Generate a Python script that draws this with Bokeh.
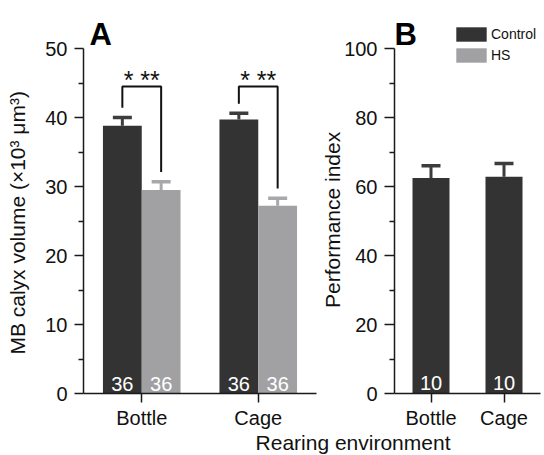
from bokeh.plotting import figure
from bokeh.models import (ColumnDataSource, FixedTicker, Range1d, Whisker, TeeHead,
                          Legend, LegendItem, Div, Label)
from bokeh.layouts import row, column
from bokeh.core.properties import value
from bokeh.embed import file_html
from bokeh.resources import INLINE

# ---------------- data ----------------
environments = ["Bottle", "Cage"]
env_pos = [1, 2]

calyx_control = [38.8, 39.7]
calyx_control_sem = [1.2, 0.9]
calyx_hs = [29.5, 27.2]
calyx_hs_sem = [1.2, 1.1]
calyx_n_control = ["36", "36"]
calyx_n_hs = ["36", "36"]
sig_label = ["* **", "* **"]
sig_level = [44.5, 44.5]

pi_control = [62.5, 62.8]
pi_control_sem = [3.5, 3.9]
pi_n = ["10", "10"]

calyx_ticks = [0, 10, 20, 30, 40, 50]
calyx_minor = [5, 15, 25, 35, 45]
pi_ticks = [0, 20, 40, 60, 80, 100]
pi_minor = [10, 30, 50, 70, 90]

# ---------------- style ----------------
CTRL = "#333333"
HS = "#a1a1a4"
CTRL_ERR = "#3d3d3d"
HS_ERR = "#a8a8ab"
AX = "#1a1a1a"
FONT = "Liberation Sans"
BAR_W_A = 0.333
BAR_W_B = 0.507
BRACKET_GAP = 1.4
FRAME_H = 388          # frame reaches above the axis top to host panel letters / legend
AXIS_PX = 345          # pixel length of the drawn y axis
NBSP = "\u00a0"


def style_axes(p, yticks, yminor, ylabel, ylabel_standoff, ytick_len):
    for ax in (p.xaxis[0], p.yaxis[0]):
        ax.axis_line_color = AX
        ax.axis_line_width = 1.5
        ax.major_tick_line_color = AX
        ax.major_tick_line_width = 1.5
        ax.minor_tick_line_color = AX
        ax.minor_tick_line_width = 1.5
        ax.major_tick_in = 0
        ax.minor_tick_in = 0
        ax.major_label_text_font = FONT
        ax.major_label_text_font_size = "20px"
        ax.major_label_text_color = "#111111"
        ax.axis_label_text_font = FONT
        ax.axis_label_text_font_size = "21px"
        ax.axis_label_text_font_style = "normal"
        ax.axis_label_text_color = "#111111"
    p.xaxis[0].ticker = FixedTicker(ticks=env_pos)
    p.xaxis[0].major_label_overrides = {pos: name for pos, name in zip(env_pos, environments)}
    p.xaxis[0].major_tick_out = 9
    p.xaxis[0].minor_tick_line_color = None
    p.xaxis[0].major_label_standoff = 4
    p.yaxis[0].ticker = FixedTicker(ticks=yticks, minor_ticks=yminor)
    p.yaxis[0].bounds = (yticks[0], yticks[-1])
    p.yaxis[0].major_tick_out = ytick_len
    p.yaxis[0].minor_tick_out = 5
    p.yaxis[0].major_label_standoff = 7
    p.yaxis[0].axis_label = ylabel
    p.yaxis[0].axis_label_standoff = ylabel_standoff
    p.xgrid.grid_line_color = None
    p.ygrid.grid_line_color = None
    p.outline_line_color = None


def panel_letter(p, letter, x, y, x_offset):
    p.add_layout(Label(x=x, y=y, text=letter, text_font=FONT, text_font_size="31px",
                       text_font_style="bold", text_color="#000000",
                       text_baseline="alphabetic", x_offset=x_offset, y_offset=14))


# ---------------- panel A ----------------
x_ctrl = [p - BAR_W_A / 2 for p in env_pos]
x_hs = [p + BAR_W_A / 2 for p in env_pos]

src_ctrl = ColumnDataSource(dict(x=x_ctrl, top=calyx_control,
                                 upper=[m + s for m, s in zip(calyx_control, calyx_control_sem)],
                                 n=calyx_n_control))
src_hs = ColumnDataSource(dict(x=x_hs, top=calyx_hs,
                               upper=[m + s for m, s in zip(calyx_hs, calyx_hs_sem)],
                               n=calyx_n_hs))

a_top = calyx_ticks[-1] * FRAME_H / AXIS_PX
pA = figure(frame_width=233, frame_height=FRAME_H, output_backend="svg", toolbar_location=None,
            x_range=Range1d(0.5, 2.5), y_range=Range1d(calyx_ticks[0], a_top), title=None,
            min_border_left=83, min_border_right=2, min_border_top=5, min_border_bottom=37,
            background_fill_color="white", border_fill_color="white")

pA.add_layout(Whisker(source=src_ctrl, base="x", lower="top", upper="upper",
                      line_color=CTRL_ERR, line_width=3, lower_head=None,
                      upper_head=TeeHead(size=19, line_color=CTRL_ERR, line_width=3.5)))
pA.add_layout(Whisker(source=src_hs, base="x", lower="top", upper="upper",
                      line_color=HS_ERR, line_width=3, lower_head=None,
                      upper_head=TeeHead(size=19, line_color=HS_ERR, line_width=3.5)))
pA.vbar(x="x", top="top", width=BAR_W_A, source=src_ctrl, fill_color=CTRL, line_color=None)
pA.vbar(x="x", top="top", width=BAR_W_A, source=src_hs, fill_color=HS, line_color=None)

# counts
pA.text(x="x", y=0, text="n", source=src_ctrl, text_color="white", text_font=value(FONT),
        text_font_size="20px", text_align="center", text_baseline="alphabetic", y_offset=-10)
pA.text(x="x", y=0, text="n", source=src_hs, text_color="white", text_font=value(FONT),
        text_font_size="20px", text_align="center", text_baseline="alphabetic", y_offset=-10)

# significance brackets
br_xs, br_ys = [], []
for xc, xh, uc, uh, lev in zip(x_ctrl, x_hs, src_ctrl.data["upper"], src_hs.data["upper"], sig_level):
    br_xs.append([xc, xc, xh, xh])
    br_ys.append([uc + BRACKET_GAP, lev, lev, uh + BRACKET_GAP])
pA.multi_line(xs=br_xs, ys=br_ys, line_color="#111111", line_width=2)
pA.text(x=env_pos, y=sig_level, text=sig_label, text_color="#111111", text_font=value(FONT),
        text_font_size="25px", text_align="center", text_baseline="alphabetic", y_offset=-6)

style_axes(pA, calyx_ticks, calyx_minor, "MB calyx volume (×10³ μm³)" + NBSP * 8, 13, 9)
panel_letter(pA, "A", 0.5, calyx_ticks[-1], 6)

# ---------------- panel B ----------------
src_pi = ColumnDataSource(dict(x=env_pos, top=pi_control,
                               upper=[m + s for m, s in zip(pi_control, pi_control_sem)],
                               n=pi_n))
# HS has no performance data: a NaN proxy keeps its legend swatch
src_hs_proxy = ColumnDataSource(dict(x=[float("nan")], top=[float("nan")]))

b_top = pi_ticks[-1] * FRAME_H / AXIS_PX
pB = figure(frame_width=146, frame_height=FRAME_H, output_backend="svg", toolbar_location=None,
            x_range=Range1d(0.5, 2.5), y_range=Range1d(pi_ticks[0], b_top), title=None,
            min_border_left=75, min_border_right=1, min_border_top=5, min_border_bottom=37,
            background_fill_color="white", border_fill_color="white")

pB.add_layout(Whisker(source=src_pi, base="x", lower="top", upper="upper",
                      line_color=CTRL_ERR, line_width=3, lower_head=None,
                      upper_head=TeeHead(size=19, line_color=CTRL_ERR, line_width=3.5)))
r_ctrl = pB.vbar(x="x", top="top", width=BAR_W_B, source=src_pi, fill_color=CTRL, line_color=None)
r_hs = pB.vbar(x="x", top="top", width=BAR_W_B, source=src_hs_proxy, fill_color=HS, line_color=None)
pB.text(x="x", y=0, text="n", source=src_pi, text_color="white", text_font=value(FONT),
        text_font_size="20px", text_align="center", text_baseline="alphabetic", y_offset=-11)

style_axes(pB, pi_ticks, pi_minor, "Performance index" + NBSP * 7, -3, 10)
panel_letter(pB, "B", 0.5, pi_ticks[-1], 0)

legend = Legend(items=[LegendItem(label="Control", renderers=[r_ctrl]),
                       LegendItem(label="HS", renderers=[r_hs])],
                location=(58, 329), glyph_width=38, glyph_height=18, label_height=18,
                spacing=3, padding=0, margin=0, label_standoff=1,
                border_line_color=None, background_fill_alpha=0,
                label_text_font=FONT, label_text_font_size="14px", label_text_color="#111111")
pB.add_layout(legend)

xlabel = Div(text=('<div style="margin-left:248px;width:200px;text-align:center;'
                   "font-family:'Liberation Sans';font-size:21px;line-height:14px;"
                   'color:#111111;white-space:nowrap">Rearing environment</div>'),
             width=540, height=22)

layout = column(row(pA, pB), xlabel)

with open("out.html", "w") as f:
    f.write(file_html(layout, INLINE))
